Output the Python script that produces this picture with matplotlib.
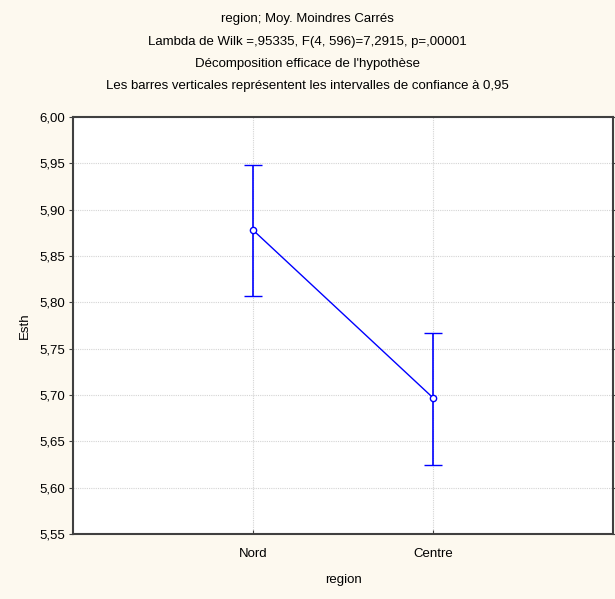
import numpy as np
import matplotlib.pyplot as plt
from matplotlib.ticker import FuncFormatter

categories = ["Nord", "Centre"]
means = [5.878, 5.697]
upper = [5.948, 5.767]
lower = [5.807, 5.625]

titles = [
    "region; Moy. Moindres Carrés",
    "Lambda de Wilk =,95335, F(4, 596)=7,2915, p=,00001",
    "Décomposition efficace de l'hypothèse",
    "Les barres verticales représentent les intervalles de confiance à 0,95",
]

plt.rcParams['font.family'] = ['Liberation Sans', 'DejaVu Sans']
plt.rcParams['font.size'] = 9.5

fig = plt.figure(figsize=(6.15, 5.99), dpi=100, facecolor="#fdf9ef")
ax = fig.add_axes([73 / 615, 1 - 534 / 599, 540 / 615, 417 / 599])
ax.set_facecolor("white")

x = np.arange(1, len(categories) + 1)
m = np.array(means)
err = [m - np.array(lower), np.array(upper) - m]
ax.errorbar(x, m, yerr=err, fmt="o-", color="#0000ff", lw=1, elinewidth=1.2,
            capsize=6.5, capthick=1.2, markersize=4.5, markerfacecolor="white",
            markeredgecolor="#0000ff", markeredgewidth=1, zorder=3)

ax.set_xlim(0, 3)
ax.set_ylim(5.55, 6.00)
ax.set_xticks(x)
ax.set_xticklabels(categories)
ax.set_yticks(np.arange(5.55, 6.001, 0.05))
ax.yaxis.set_major_formatter(FuncFormatter(lambda v, p: f"{v:.2f}".replace(".", ",")))

ax.grid(True, color="#d4d4d4", linestyle=(0, (1, 1)), linewidth=0.8)
ax.tick_params(axis="y", direction="out", length=3, color="#404040", right=True, pad=3)
ax.tick_params(axis="x", direction="in", length=3, color="#404040", pad=10)
for s in ax.spines.values():
    s.set_color("#404040")
    s.set_linewidth(1.5)

ax.set_ylabel("Esth", labelpad=6)
ax.set_xlabel("region", labelpad=10)

for i, t in enumerate(titles):
    fig.text(0.5, 1 - (19 + 22.5 * i) / 599, t, ha="center", va="center", fontsize=9.5)

fig.savefig("out.png", dpi=100, facecolor=fig.get_facecolor())
